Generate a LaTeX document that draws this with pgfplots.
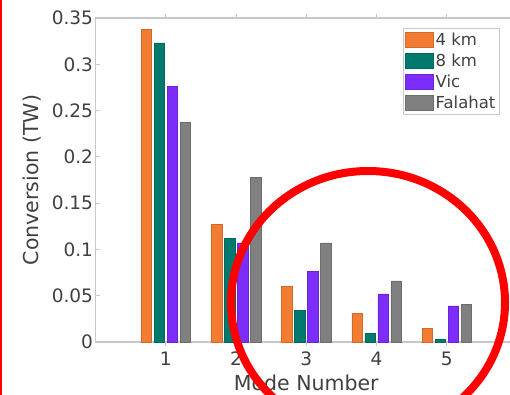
\documentclass[border=0pt]{standalone}
\usepackage{pgfplots}
\pgfplotsset{compat=1.18}
\usepackage{fontspec}
\setmainfont{DejaVu Sans}
\definecolor{cOr}{RGB}{242,125,50}
\definecolor{cTe}{RGB}{0,122,110}
\definecolor{cPu}{RGB}{125,45,250}
\definecolor{cGr}{RGB}{128,128,128}
\definecolor{txt}{RGB}{64,64,64}
\definecolor{axc}{RGB}{200,200,200}
\begin{document}
\begin{tikzpicture}[x=1pt,y=1pt]
\useasboundingbox (0,0) rectangle (510,-395);
\clip (0,0) rectangle (510,-395);
\fill[white] (0,0) rectangle (510,-395);
\begin{axis}[
  at={(95.5pt,-342pt)}, anchor=south west,
  scale only axis, width=421.5pt, height=324pt,
  xmin=0, xmax=6, ymin=0, ymax=0.35,
  xtick={1,2,3,4,5},
  ytick={0,0.05,0.1,0.15,0.2,0.25,0.3,0.35},
  yticklabels={0,0.05,0.1,0.15,0.2,0.25,0.3,0.35},
  scaled y ticks=false,
  /pgf/number format/assume math mode=true,
  tick align=inside, major tick length=4pt,
  tick style={axc, line width=0.8pt},
  axis line style={axc, line width=1.2pt},
  ticklabel style={txt, font=\fontsize{18.5}{19}\selectfont},
  yticklabel style={xshift=1pt},
  xticklabel style={yshift=-2pt},
  xlabel={Mode Number}, ylabel={Conversion (TW)},
  label style={txt, font=\fontsize{20.5}{22}\selectfont},
  xlabel style={at={(axis description cs:0.5,0)}, anchor=base, yshift=-48pt},
  ylabel style={at={(axis description cs:0,0.5)}, anchor=base, yshift=57.5pt},
  ybar, bar width=10.5pt,
  legend cell align=left,
  legend style={at={(0.729,0.968)}, anchor=north west, draw=axc, line width=0.8pt,
    font=\fontsize{16.5}{18}\selectfont, text=txt, row sep=3pt,
    inner xsep=2pt, inner ysep=2pt},
  legend image code/.code={\fill[#1] (0pt,-7.5pt) rectangle (28pt,8pt);},
]
\addplot[fill=cOr, draw=cOr!85!black, line width=0.4pt, bar shift=-19.5pt] coordinates {(1,0.338) (2,0.127) (3,0.060) (4,0.031) (5,0.015)};
\addplot[fill=cTe, draw=cTe!85!black, line width=0.4pt, bar shift=-6.5pt] coordinates {(1,0.323) (2,0.112) (3,0.034) (4,0.0097) (5,0.0026)};
\addplot[fill=cPu, draw=cPu!85!black, line width=0.4pt, bar shift=6.5pt] coordinates {(1,0.276) (2,0.107) (3,0.076) (4,0.052) (5,0.039)};
\addplot[fill=cGr, draw=cGr!85!black, line width=0.4pt, bar shift=19.5pt] coordinates {(1,0.237) (2,0.178) (3,0.107) (4,0.066) (5,0.041)};
\legend{4 km, 8 km, Vic, Falahat}
\end{axis}
\draw[red, line width=2pt] (1,0) -- (1,-395);
\draw[red, line width=8pt] (368,-302.6) ellipse [x radius=137, y radius=131.6];
\end{tikzpicture}
\end{document}
